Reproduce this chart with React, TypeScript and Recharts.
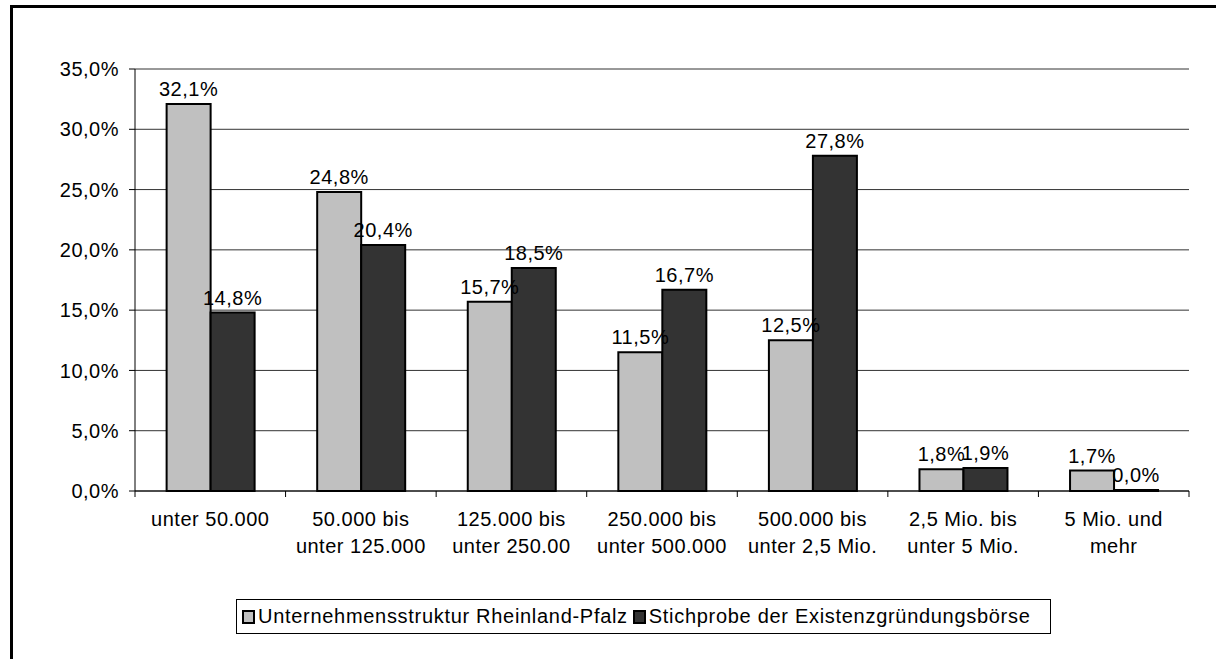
import {
  BarChart,
  Bar,
  XAxis,
  YAxis,
  CartesianGrid,
  LabelList,
  Legend,
} from 'recharts'

const categories = [
  'unter 50.000',
  '50.000 bis\nunter 125.000',
  '125.000 bis\nunter 250.00',
  '250.000 bis\nunter 500.000',
  '500.000 bis\nunter 2,5 Mio.',
  '2,5 Mio. bis\nunter 5 Mio.',
  '5 Mio. und\nmehr',
]
const rlpValues = [32.1, 24.8, 15.7, 11.5, 12.5, 1.8, 1.7]
const boerseValues = [14.8, 20.4, 18.5, 16.7, 27.8, 1.9, 0.0]
const yTicks = [0, 5, 10, 15, 20, 25, 30, 35]

const seriesNames = {
  rlp: 'Unternehmensstruktur Rheinland-Pfalz',
  boerse: 'Stichprobe der Existenzgründungsbörse',
}

const FONT = '"Liberation Sans", Arial, sans-serif'
const GREY = '#c0c0c0'
const DARK = '#333333'
const FS = 20

const pct = (v: number) => `${v.toFixed(1).replace('.', ',')}%`

const data = categories.map((name, i) => ({
  name,
  rlp: rlpValues[i],
  boerse: boerseValues[i],
}))

function CategoryTick(props: any) {
  const { x, y, payload, index } = props
  const half = payload?.offset ?? 1054 / 7 / 2
  const lines = String(payload.value).split('\n')
  return (
    <g>
      <line x1={x - half} y1={y} x2={x - half} y2={y + 6} stroke="#000" />
      {index === categories.length - 1 && (
        <line x1={x + half} y1={y} x2={x + half} y2={y + 6} stroke="#000" />
      )}
      <text
        x={x}
        y={y + 35}
        textAnchor="middle"
        fill="#000"
        fontSize={FS}
        letterSpacing={0.5}
        fontFamily={FONT}
      >
        {lines.map((l, i) => (
          <tspan key={i} x={x} dy={i === 0 ? 0 : 27}>
            {l}
          </tspan>
        ))}
      </text>
    </g>
  )
}

function ValueLabel(props: any) {
  const { x, y, width, value } = props
  return (
    <text
      x={Number(x) + Number(width) / 2}
      y={Number(y) - 8}
      textAnchor="middle"
      fill="#000"
      fontSize={FS}
      letterSpacing={0.5}
      fontFamily={FONT}
    >
      {pct(Number(value))}
    </text>
  )
}

function LegendBox() {
  const item = (color: string, label: string) => (
    <span style={{ display: 'flex', alignItems: 'center', marginRight: 5 }}>
      <span
        style={{
          display: 'inline-block',
          width: 9,
          height: 10,
          background: color,
          border: '2px solid #000',
          marginRight: 3,
        }}
      />
      <span>{label}</span>
    </span>
  )
  return (
    <div
      style={{
        display: 'flex',
        alignItems: 'center',
        boxSizing: 'border-box',
        height: 35,
        border: '1px solid #000',
        padding: '0 5px',
        fontFamily: FONT,
        fontSize: FS,
        letterSpacing: 0.7,
        color: '#000',
        background: '#fff',
        whiteSpace: 'nowrap',
      }}
    >
      {item(GREY, seriesNames.rlp)}
      {item(DARK, seriesNames.boerse)}
    </div>
  )
}

export default function App() {
  return (
    <div style={{ position: 'absolute', left: 0, top: 0, width: 1216, height: 659, background: '#fff' }}>
      <div
        style={{
          position: 'absolute',
          left: 10,
          top: 5,
          width: 1215,
          height: 660,
          borderTop: '3px solid #000',
          borderLeft: '3px solid #000',
        }}
      />
      <div style={{ position: 'absolute', left: 0, top: 0 }}>
        <BarChart
          width={1216}
          height={659}
          data={data}
          margin={{ top: 69, right: 27, left: 0, bottom: 63 }}
          barCategoryGap="21%"
          barGap={0}
        >
          <CartesianGrid vertical={false} stroke="#333" strokeWidth={1} />
          <XAxis
            dataKey="name"
            height={70}
            tickLine={false}
            tickSize={0}
            tickMargin={0}
            axisLine={{ stroke: '#000' }}
            interval={0}
            tick={<CategoryTick />}
          />
          <YAxis
            width={135}
            domain={[0, 35]}
            ticks={yTicks}
            tickFormatter={pct}
            axisLine={{ stroke: '#000' }}
            tickLine={{ stroke: '#000' }}
            tickSize={6}
            tickMargin={10}
            tick={{ fill: '#000', fontSize: FS, fontFamily: FONT, letterSpacing: 0.5 }}
          />
          <YAxis
            yAxisId="right"
            orientation="right"
            width={0}
            tick={false}
            tickLine={false}
            axisLine={{ stroke: '#000' }}
            domain={[0, 35]}
          />
          <Legend
            verticalAlign="bottom"
            content={<LegendBox />}
            wrapperStyle={{ left: 236, width: 815, bottom: 25 }}
          />
          <Bar
            dataKey="rlp"
            name={seriesNames.rlp}
            fill={GREY}
            stroke="#000"
            strokeWidth={2}
            isAnimationActive={false}
          >
            <LabelList dataKey="rlp" content={<ValueLabel />} />
          </Bar>
          <Bar
            dataKey="boerse"
            name={seriesNames.boerse}
            fill={DARK}
            stroke="#000"
            strokeWidth={2}
            minPointSize={1}
            isAnimationActive={false}
          >
            <LabelList dataKey="boerse" content={<ValueLabel />} />
          </Bar>
        </BarChart>
      </div>
    </div>
  )
}
